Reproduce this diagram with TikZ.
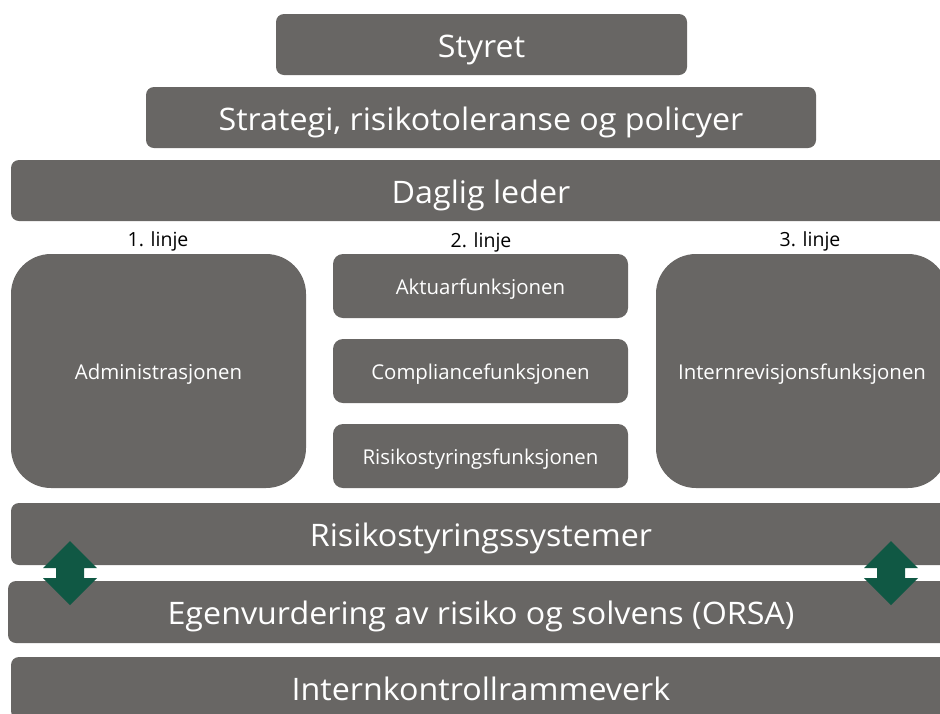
\documentclass[tikz,border=0pt]{standalone}
\usepackage{fontspec}
\setmainfont{Open Sans}
\newfontfamily\barfont{Open Sans}[FakeStretch=1.04]
\definecolor{boxgray}{RGB}{104,102,100}
\definecolor{arrgreen}{RGB}{16,88,68}
\begin{document}
\begin{tikzpicture}[x=1pt,y=-1pt,
  bar/.style={fill=boxgray, draw=none, rounded corners=8pt, text=white, inner sep=0pt,
    text height=25pt, text depth=0pt, font=\barfont\fontsize{31}{34}\selectfont},
  bigbox/.style={fill=boxgray, draw=none, rounded corners=40pt, text=white, inner sep=0pt,
    text height=16.6pt, text depth=0pt, font=\fontsize{20.4}{24}\selectfont},
  smallbox/.style={fill=boxgray, draw=none, rounded corners=10pt, text=white, inner sep=0pt,
    text height=16.6pt, text depth=0pt, font=\fontsize{20.4}{24}\selectfont},
  linelabel/.style={text=black, inner sep=0pt, anchor=base, font=\fontsize{19.5}{22}\selectfont},
  updown/.style={fill=arrgreen, draw=none}]
\clip (0,0) rectangle (940,713);
\fill[white] (0,0) rectangle (940,713);

\node[bar, minimum width=411pt, minimum height=61pt] (styret) at (481.5,44.5) {Styret};
\node[bar, minimum width=670pt, minimum height=61pt] (strategi) at (481,117.5) {Strategi, risikotoleranse og policyer};
\node[bar, minimum width=940pt, minimum height=61pt] (daglig) at (481,190.5) {Daglig leder};

\node[linelabel] (l1) at (158,246.7) {1. linje};
\node[linelabel] (l2) at (481,247.5) {2. linje};
\node[linelabel] (l3) at (810,246.7) {3. linje};

\node[bigbox, minimum width=295pt, minimum height=234pt] (adm) at (158.5,371) {Administrasjonen};
\node[smallbox, minimum width=295pt, minimum height=64pt] (akt) at (480.5,286) {Aktuarfunksjonen};
\node[smallbox, minimum width=295pt, minimum height=64pt] (comp) at (480.5,371) {Compliancefunksjonen};
\node[smallbox, minimum width=295pt, minimum height=64pt] (risf) at (480.5,456) {Risikostyringsfunksjonen};
\node[bigbox, minimum width=292pt, minimum height=234pt] (intrev) at (802,371) {Internrevisjonsfunksjonen};

\node[bar, minimum width=940pt, minimum height=62pt] (rss) at (481,534) {Risikostyringssystemer};
\node[bar, minimum width=946pt, minimum height=62pt] (orsa) at (481,612) {Egenvurdering av risiko og solvens (ORSA)};
\node[bar, minimum width=940pt, minimum height=62pt] (ikr) at (481,688) {Internkontrollrammeverk};

\foreach \cx in {70,891}{
  \fill[updown] (\cx,541) -- (\cx+27,568) -- (\cx+14,568) -- (\cx+14,578) -- (\cx+27,578)
    -- (\cx,605) -- (\cx-27,578) -- (\cx-14,578) -- (\cx-14,568) -- (\cx-27,568) -- cycle;
}
\end{tikzpicture}
\end{document}
